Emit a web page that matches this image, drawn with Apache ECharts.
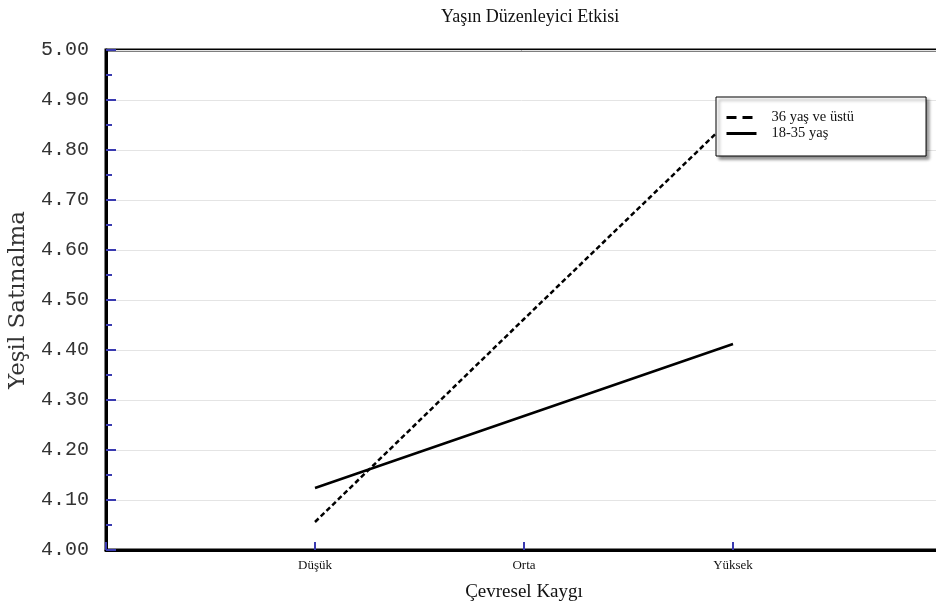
<!DOCTYPE html>
<html>
<head>
<meta charset="utf-8">
<script src="https://cdn.jsdelivr.net/npm/echarts@6/dist/echarts.min.js"></script>
<style>html,body{margin:0;padding:0;background:#fff}#c{width:936px;height:614px}</style>
</head>
<body>
<div id="c"></div>
<script>
var categories = ['Düşük', 'Orta', 'Yüksek'];
var seriesNames = ['36 yaş ve üstü', '18-35 yaş'];
var older = [4.056, 4.462, 4.866];
var younger = [4.124, 4.268, 4.412];
var yTicks = [4.00, 4.10, 4.20, 4.30, 4.40, 4.50, 4.60, 4.70, 4.80, 4.90, 5.00];

function pairs(vals) { return vals.map(function (v, i) { return [i + 1, v]; }); }

var chart = echarts.init(document.getElementById('c'), null, {renderer: 'canvas'});
var serif = '"Liberation Serif", "Times New Roman", serif';
var blue = '#3a3ab0';
chart.setOption({
  animation: false,
  backgroundColor: '#fff',
  title: {
    text: 'Yaşın Düzenleyici Etkisi',
    left: 436, top: 3,
    textStyle: {fontFamily: serif, fontSize: 18, fontWeight: 'normal', color: '#111'}
  },
  grid: {left: 106, top: 50, width: 836, height: 500, outerBoundsMode: 'none', containLabel: false,
         show: true, borderColor: '#000', borderWidth: 3, backgroundColor: 'transparent'},
  legend: {
    orient: 'vertical', left: 716, top: 97,
    data: [
      {name: seriesNames[0], lineStyle: {type: [10, 6], width: 3}},
      {name: seriesNames[1], lineStyle: {width: 3}}
    ],
    z: 20,
    backgroundColor: '#fff', borderColor: '#000', borderWidth: 1,
    shadowColor: 'rgba(0,0,0,0.45)', shadowBlur: 3, shadowOffsetX: 3, shadowOffsetY: 3,
    padding: [13, 72, 15, 9],
    itemWidth: 30, itemHeight: 14, itemGap: 1,
    itemStyle: {opacity: 0},
    textStyle: {fontFamily: serif, fontSize: 14.5, color: '#111', padding: [0, 0, 0, 10]}
  },
  xAxis: {
    type: 'value', min: 0, max: 4, interval: 1,
    name: 'Çevresel Kaygı', nameLocation: 'middle', nameGap: 33,
    nameTextStyle: {fontFamily: serif, fontSize: 19, color: '#111'},
    axisLine: {show: true, lineStyle: {color: '#000', width: 3}},
    axisTick: {show: true, inside: true, length: 8, lineStyle: {color: blue, width: 2}},
    splitLine: {show: false},
    axisLabel: {
      margin: 9, fontFamily: serif, fontSize: 13, color: '#111',
      formatter: function (v) { return categories[v - 1] || ''; }
    }
  },
  yAxis: {
    type: 'value', min: yTicks[0], max: yTicks[yTicks.length - 1], interval: 0.1,
    name: 'Yeşil Satınalma', nameLocation: 'middle', nameGap: 76,
    nameTextStyle: {fontFamily: '"DejaVu Serif", serif', fontSize: 23, color: '#333'},
    axisLine: {show: true, lineStyle: {color: '#000', width: 3}},
    axisTick: {show: true, inside: true, length: 10, lineStyle: {color: blue, width: 2}},
    minorTick: {show: true, splitNumber: 2, length: 6, lineStyle: {color: blue, width: 2}},
    splitLine: {show: true, lineStyle: {color: '#e4e4e4', width: 1}},
    axisLabel: {
      margin: 17, fontFamily: '"Liberation Mono", "Courier New", monospace', fontSize: 20, color: '#333',
      formatter: function (v) { return v.toFixed(2); }
    }
  },
  series: [
    {
      name: seriesNames[0], type: 'line', data: pairs(older), symbol: 'none', z: 3,
      lineStyle: {color: '#000', width: 2.5, type: [5, 3]},
      itemStyle: {color: '#000'}
    },
    {
      name: seriesNames[1], type: 'line', data: pairs(younger), symbol: 'none', z: 3,
      lineStyle: {color: '#000', width: 2.5, type: 'solid'},
      itemStyle: {color: '#000'}
    }
  ]
});
</script>
</body>
</html>
